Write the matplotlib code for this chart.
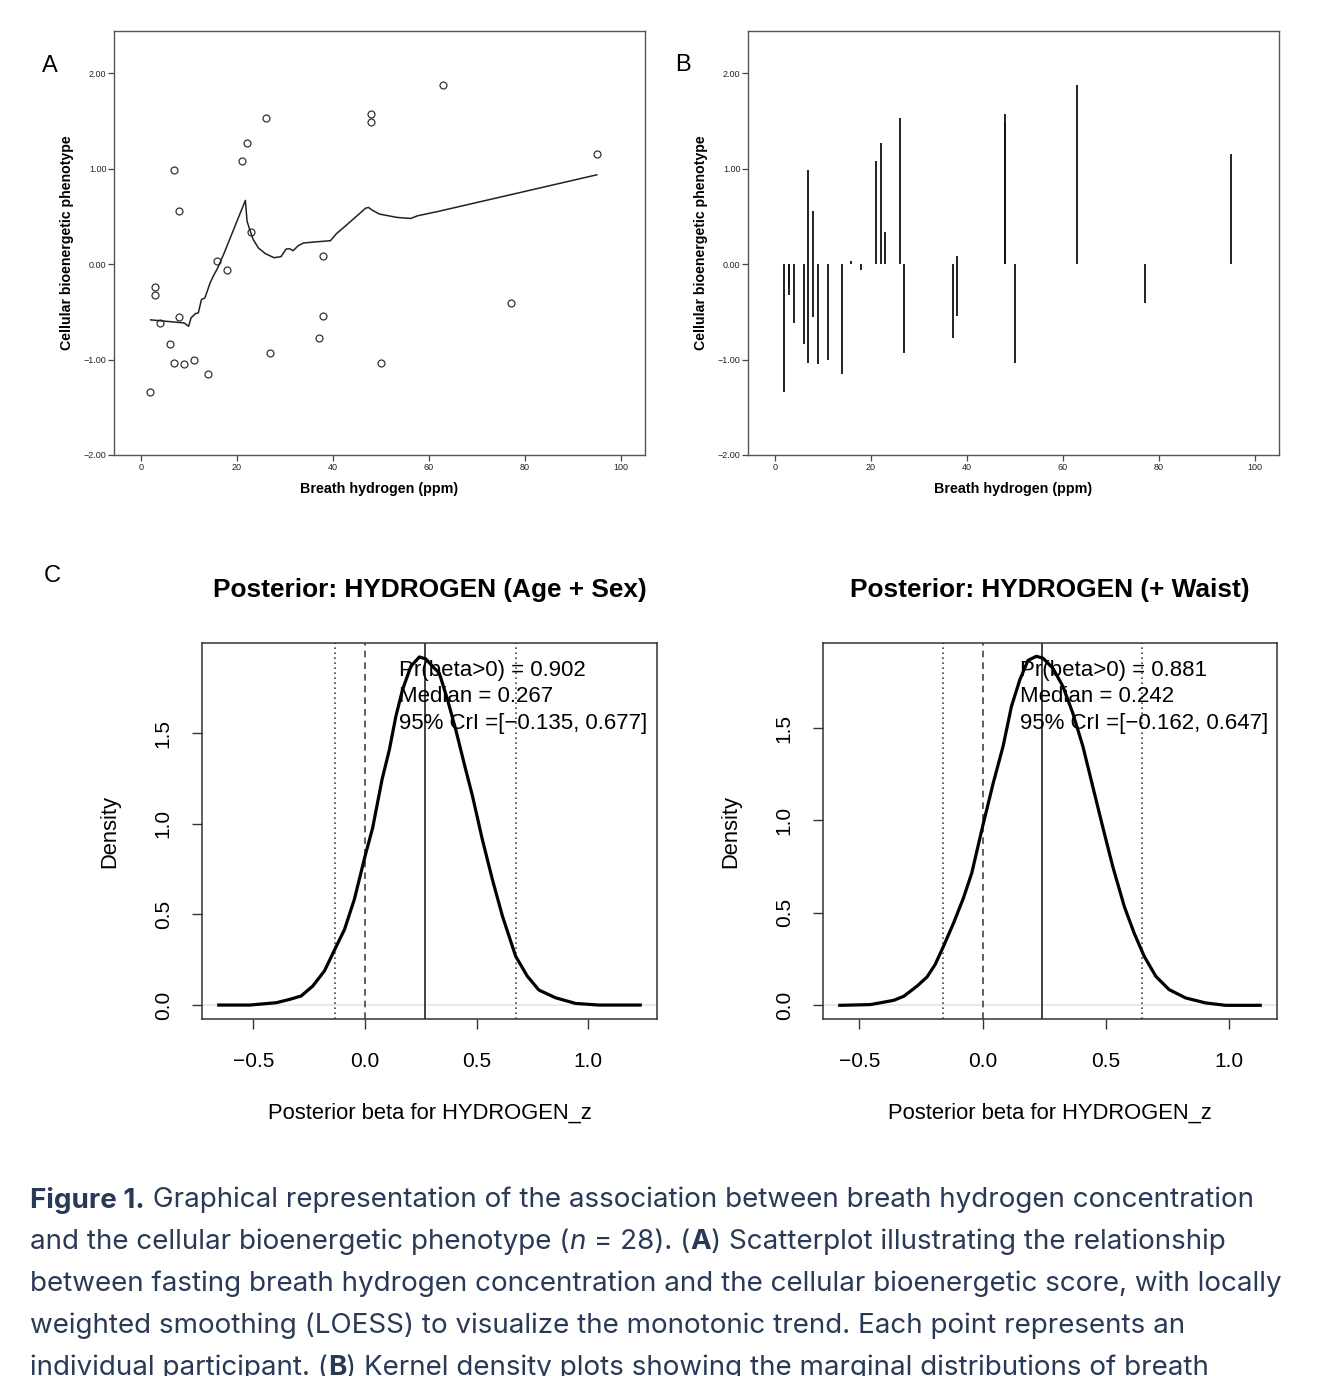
import matplotlib
matplotlib.use("Agg")
import matplotlib.pyplot as plt

# ---- panel A / B data: breath hydrogen (ppm) vs bioenergetic score
h2_ppm = [2.0, 2.9, 2.9, 4.0, 6.0, 7.0, 8.0, 8.0, 7.0, 8.9, 11.0, 14.0, 15.9, 18.0,
          21.0, 22.0, 23.0, 26.0, 26.9, 37.0, 38.0, 38.0, 48.0, 48.0, 50.0, 63.0,
          77.0, 95.0]
bio_score = [-1.338, -0.244, -0.328, -0.617, -0.833, 0.983, 0.551, -0.554, -1.038,
             -1.049, -1.0, -1.157, 0.035, -0.059, 1.077, 1.272, 0.338, 1.530, -0.937,
             -0.777, 0.087, -0.540, 1.575, 1.488, -1.038, 1.875, -0.408, 1.153]

# LOESS curve
loess_x = [2.02, 9.0, 9.94, 10.45, 11.38, 11.96, 12.61, 13.33, 14.41, 15.13, 15.99,
           17.29, 21.76, 22.12, 22.69, 23.41, 24.50, 25.94, 27.74, 29.18, 30.26,
           30.98, 31.70, 32.78, 33.86, 36.74, 39.48, 40.71, 42.51, 46.83, 47.41,
           48.27, 49.71, 53.31, 56.20, 57.64, 61.96, 94.96]
loess_y = [-0.585, -0.617, -0.652, -0.564, -0.519, -0.512, -0.373, -0.355, -0.199,
           -0.122, -0.042, 0.108, 0.666, 0.446, 0.359, 0.254, 0.167, 0.108, 0.066,
           0.077, 0.157, 0.160, 0.139, 0.192, 0.220, 0.233, 0.244, 0.317, 0.394,
           0.585, 0.592, 0.561, 0.523, 0.488, 0.477, 0.505, 0.551, 0.934]

# ---- panel C: posterior densities
post1_x = [-0.655, -0.516, -0.397, -0.338, -0.286, -0.234, -0.182, -0.132, -0.092,
           -0.048, 0.0, 0.034, 0.076, 0.109, 0.138, 0.168, 0.205, 0.243, 0.272,
           0.302, 0.332, 0.369, 0.406, 0.443, 0.481, 0.525, 0.570, 0.615, 0.674,
           0.726, 0.778, 0.853, 0.942, 1.046, 1.232]
post1_y = [0.0, 0.0, 0.013, 0.031, 0.050, 0.105, 0.188, 0.316, 0.417, 0.583, 0.822,
           0.978, 1.244, 1.410, 1.594, 1.741, 1.869, 1.921, 1.910, 1.869, 1.833,
           1.686, 1.520, 1.336, 1.153, 0.914, 0.693, 0.491, 0.270, 0.160, 0.083,
           0.040, 0.009, 0.0, 0.0]
post2_x = [-0.580, -0.455, -0.361, -0.320, -0.267, -0.226, -0.193, -0.159, -0.118,
           -0.078, -0.044, 0.0, 0.043, 0.083, 0.117, 0.151, 0.184, 0.218, 0.245,
           0.285, 0.326, 0.366, 0.407, 0.447, 0.487, 0.528, 0.575, 0.615, 0.656,
           0.703, 0.757, 0.824, 0.905, 0.986, 1.127]
post2_y = [0.0, 0.004, 0.027, 0.049, 0.103, 0.153, 0.220, 0.319, 0.445, 0.580, 0.716,
           0.968, 1.202, 1.401, 1.617, 1.761, 1.866, 1.888, 1.878, 1.824, 1.725,
           1.581, 1.401, 1.184, 0.968, 0.752, 0.535, 0.391, 0.265, 0.157, 0.085,
           0.040, 0.013, 0.0, 0.0]

titles = ["Posterior: HYDROGEN (Age + Sex)", "Posterior: HYDROGEN (+ Waist)"]
medians = [0.267, 0.242]
cri_low = [-0.135, -0.162]
cri_high = [0.677, 0.647]
pr_pos = [0.902, 0.881]

W, H = 1332, 1376
fig = plt.figure(figsize=(W / 100, H / 100), dpi=100)
fig.patch.set_facecolor("white")

SPSS_FONT = "Liberation Sans"
R_FONT = "Liberation Sans"


def px_axes(left, top, right, bottom):
    return fig.add_axes([left / W, 1 - bottom / H, (right - left) / W, (bottom - top) / H])


def spss_style(ax):
    ax.set_xlim(-5.6, 105)
    ax.set_ylim(-2.0, 2.44)
    ax.set_xticks([0, 20, 40, 60, 80, 100])
    ax.set_yticks([-2, -1, 0, 1, 2])
    ax.set_yticklabels(["\u22122.00", "\u22121.00", "0.00", "1.00", "2.00"])
    for s in ax.spines.values():
        s.set_color("#555555")
        s.set_linewidth(1.0)
    ax.tick_params(direction="out", length=4, width=0.9, color="#444444",
                   labelsize=6.5, pad=1.5, labelcolor="#222222")
    for lab in ax.get_xticklabels() + ax.get_yticklabels():
        lab.set_family(SPSS_FONT)
    ax.set_xlabel("Breath hydrogen (ppm)", fontsize=10.3, fontweight="bold", family=SPSS_FONT)
    ax.set_ylabel("Cellular bioenergetic phenotype", fontsize=10.2, fontweight="bold", family=SPSS_FONT)
    ax.xaxis.set_label_coords(0.5, -0.08)
    ax.xaxis.label.set_va("center")
    ax.yaxis.set_label_coords(-0.0885, 0.5)
    ax.yaxis.label.set_va("center")


# ---- panel A
axA = px_axes(114, 31, 645, 455)
axA.plot(h2_ppm, bio_score, "o", mfc="none", mec="#333333", mew=0.9, ms=5)
axA.plot(loess_x, loess_y, color="#222222", lw=1.1)
spss_style(axA)

# ---- panel B
axB = px_axes(748, 31, 1279, 455)
axB.vlines(h2_ppm, 0, bio_score, color="#111111", lw=1.3)
spss_style(axB)

fig.text(50 / W, 1 - 66 / H, "A", fontsize=17, ha="center", va="center", family=SPSS_FONT)
fig.text(683 / W, 1 - 65 / H, "B", fontsize=17, ha="center", va="center", family=SPSS_FONT)
fig.text(52 / W, 1 - 576 / H, "C", fontsize=17, ha="center", va="center", family=SPSS_FONT)

# ---- panel C
boxes = [(202, 643, 657, 1019), (823, 643, 1277, 1019)]
xlims = [(-0.73, 1.307), (-0.648, 1.195)]
ylims = [(-0.077, 1.998), (-0.074, 1.96)]
dens = [(post1_x, post1_y), (post2_x, post2_y)]

for i in range(2):
    ax = px_axes(*boxes[i])
    dx, dy = dens[i]
    ax.axhline(0, color="#e6e6e6", lw=1.2, zorder=1)
    ax.plot(dx, dy, color="black", lw=2.3, zorder=3)
    ax.axvline(0, color="#444444", lw=1.2, ls=(0, (4, 3)), zorder=2)
    ax.axvline(cri_low[i], color="#444444", lw=1.2, ls=(0, (1, 2)), zorder=2)
    ax.axvline(cri_high[i], color="#444444", lw=1.2, ls=(0, (1, 2)), zorder=2)
    ax.axvline(medians[i], color="#222222", lw=1.2, zorder=2)
    ax.set_xlim(*xlims[i])
    ax.set_ylim(*ylims[i])
    ax.set_xticks([-0.5, 0.0, 0.5, 1.0])
    ax.set_xticklabels(["\u22120.5", "0.0", "0.5", "1.0"])
    ax.set_yticks([0.0, 0.5, 1.0, 1.5])
    ax.set_yticklabels(["0.0", "0.5", "1.0", "1.5"])
    for s in ax.spines.values():
        s.set_color("#333333")
        s.set_linewidth(1.1)
    ax.tick_params(direction="out", length=7, width=1.0, color="#333333",
                   labelsize=15, pad=14)
    ax.tick_params(axis="x", pad=17)
    ax.tick_params(axis="y", labelrotation=90)
    for lab in ax.get_yticklabels():
        lab.set_va("center")
    for lab in ax.get_xticklabels() + ax.get_yticklabels():
        lab.set_family(R_FONT)
    ax.set_xlabel("Posterior beta for HYDROGEN_z", fontsize=15.8, family=R_FONT)
    ax.xaxis.set_label_coords(0.5, -0.25)
    ax.xaxis.label.set_va("center")
    ax.set_ylabel("Density", fontsize=15.8, family=R_FONT)
    ax.yaxis.set_label_coords(-(202 - 110) / 455, 0.5)
    ax.yaxis.label.set_va("center")
    ax.text(0.5, 1 + 53 / 376, titles[i], transform=ax.transAxes, ha="center",
            va="center", fontsize=18.9, fontweight="bold", family=R_FONT)
    notes = ["Pr(beta>0) = %.3f" % pr_pos[i],
             "Median = %.3f" % medians[i],
             "95%% CrI =[\u2212%.3f, %.3f]" % (-cri_low[i], cri_high[i])]
    for k, t in enumerate(notes):
        ax.text(0.434, 1 - (27 + 26.5 * k) / 376, t, transform=ax.transAxes,
                ha="left", va="center", fontsize=16, family=R_FONT, zorder=5)

# ---- caption
cap_color = "#2a3a56"
cap_lines = [
    [("Figure 1.", "bold", "normal"),
     (" Graphical representation of the association between breath hydrogen concentration", "normal", "normal")],
    [("and the cellular bioenergetic phenotype (", "normal", "normal"), ("n", "normal", "italic"),
     (" = 28). (", "normal", "normal"), ("A", "bold", "normal"),
     (") Scatterplot illustrating the relationship", "normal", "normal")],
    [("between fasting breath hydrogen concentration and the cellular bioenergetic score, with locally", "normal", "normal")],
    [("weighted smoothing (LOESS) to visualize the monotonic trend. Each point represents an", "normal", "normal")],
    [("individual participant. (", "normal", "normal"), ("B", "bold", "normal"),
     (") Kernel density plots showing the marginal distributions of breath", "normal", "normal")],
]
cap_y = [1200, 1242, 1284, 1326, 1368]

renderer = fig.canvas.get_renderer()
for line, yy in zip(cap_lines, cap_y):
    x = 30
    for txt, wt, st in line:
        t = fig.text(x / W, 1 - yy / H, txt, fontsize=20, fontweight=wt, style=st,
                     family="Inter", color=cap_color, ha="left", va="center")
        bb = t.get_window_extent(renderer=renderer)
        x += bb.width

fig.savefig("out.png", dpi=100, facecolor="white")
